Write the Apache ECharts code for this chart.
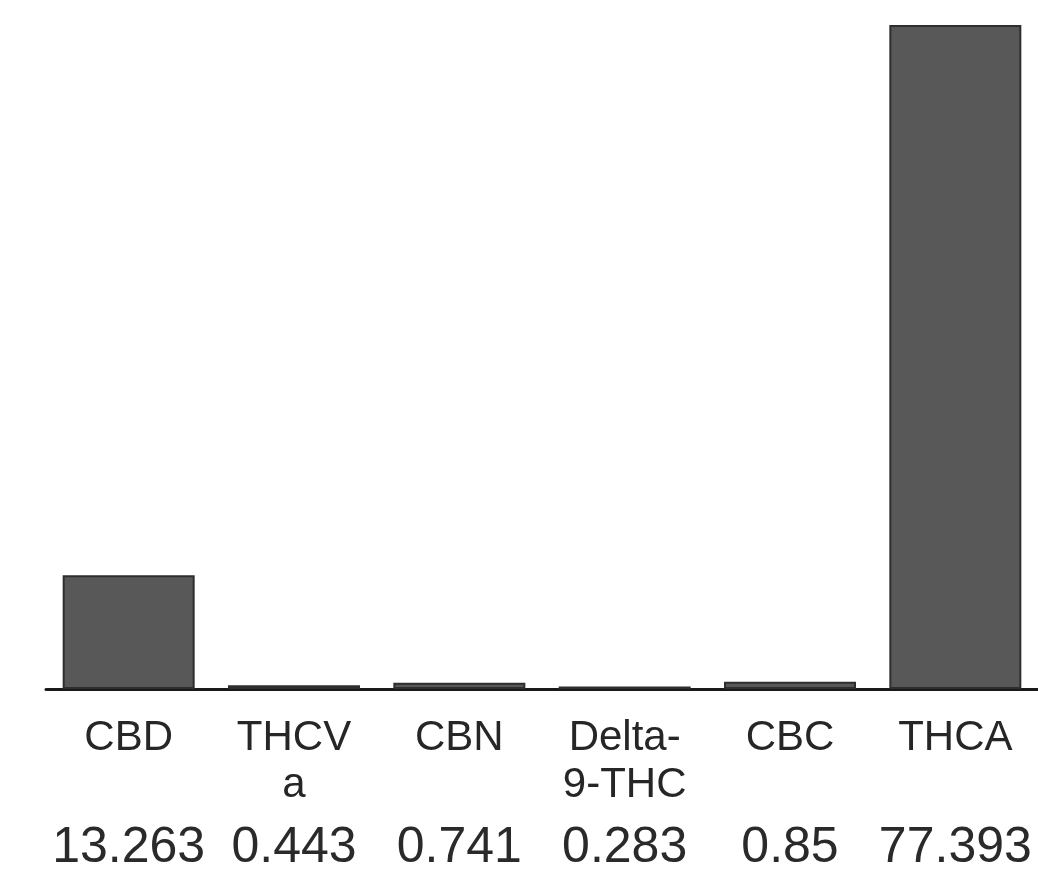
<!DOCTYPE html>
<html>
<head>
<meta charset="utf-8">
<script src="https://cdn.jsdelivr.net/npm/echarts@6/dist/echarts.min.js"></script>
<style>
  html, body { margin: 0; padding: 0; background: #fff; }
  #barChart { width: 1038px; height: 882px; }
</style>
</head>
<body>
<div id="barChart"></div>
<script>
// 数据
const categories = ['CBD', 'THCV\na', 'CBN', 'Delta-\n9-THC', 'CBC', 'THCA']
const values = [13.263, 0.443, 0.741, 0.283, 0.85, 77.393]
const valueLabels = ['13.263', '0.443', '0.741', '0.283', '0.85', '77.393']

const chart = echarts.init(document.getElementById('barChart'))

chart.setOption({
  backgroundColor: '#ffffff',
  animation: false,
  grid: {
    left: 46,
    width: 998,
    top: 25,
    bottom: 193
  },
  xAxis: {
    type: 'category',
    data: categories,
    axisLine: {
      lineStyle: { color: '#1a1a1a', width: 3 }
    },
    axisTick: { show: false },
    axisLabel: {
      interval: 0,
      margin: 26,
      // name lines + value line
      formatter: function (name, index) {
        let parts = name.split('\n')
        if (parts.length < 2) parts.push(' ')
        return parts.map(p => '{n|' + p + '}').join('\n') + '\n{v|' + valueLabels[index] + '}'
      },
      rich: {
        n: {
          fontFamily: 'Liberation Sans',
          fontSize: 42,
          lineHeight: 47,
          color: '#262626'
        },
        v: {
          fontFamily: 'Liberation Sans',
          fontSize: 50,
          lineHeight: 79,
          color: '#2a2a2a'
        }
      }
    }
  },
  yAxis: {
    type: 'value',
    min: 0,
    max: 'dataMax',
    show: false,
    splitLine: { show: false }
  },
  series: [
    {
      type: 'bar',
      data: values,
      barWidth: 132,
      itemStyle: {
        color: '#585858',
        borderColor: '#2e2e2e',
        borderWidth: 2
      }
    }
  ]
})
</script>
</body>
</html>
